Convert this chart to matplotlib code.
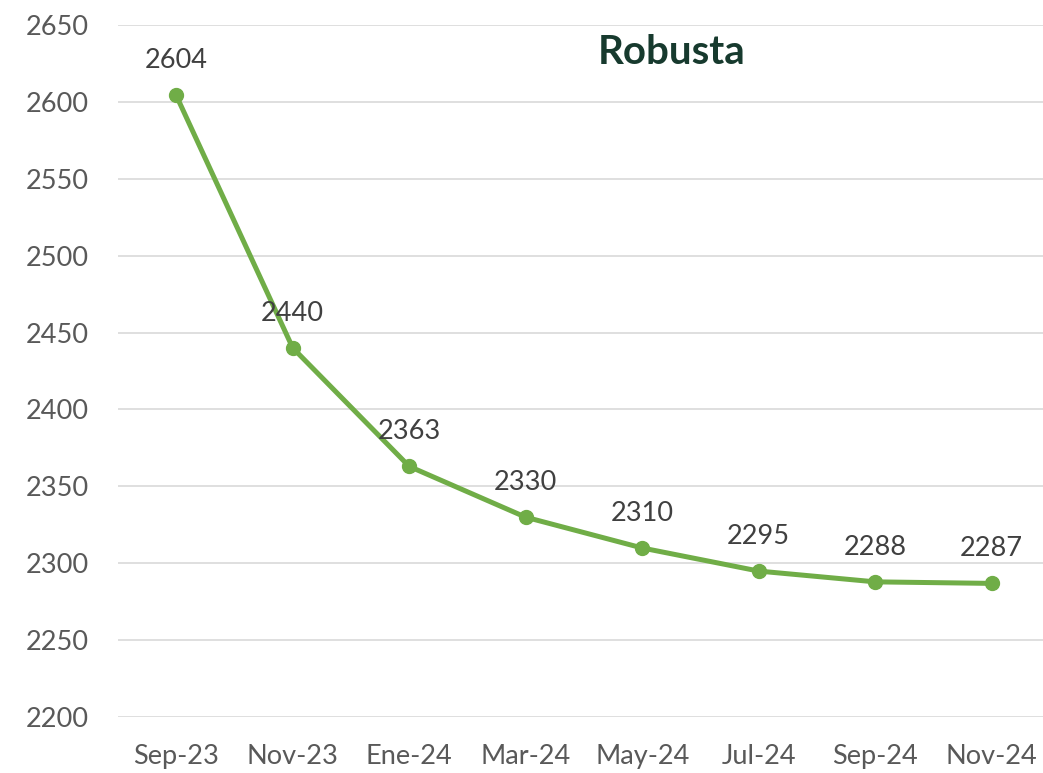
import matplotlib
matplotlib.use("Agg")
import matplotlib.pyplot as plt

# Data
months = ["Sep-23", "Nov-23", "Ene-24", "Mar-24", "May-24", "Jul-24", "Sep-24", "Nov-24"]
prices = [2604, 2440, 2363, 2330, 2310, 2295, 2288, 2287]
y_ticks = [2200, 2250, 2300, 2350, 2400, 2450, 2500, 2550, 2600, 2650]

plt.rcParams['font.family'] = ['Lato', 'DejaVu Sans']

fig = plt.figure(figsize=(10.43, 7.73), dpi=100)
ax = fig.add_axes([118 / 1043, 55.7 / 773, 932 / 1043, 692.6 / 773])

x = list(range(len(months)))
ax.plot(x, prices, color='#70AD47', linewidth=3.6, marker='o', markersize=10,
        solid_capstyle='round', zorder=3)

# Data labels above the points
for xi, v in zip(x, prices):
    ax.annotate(str(v), (xi, v), xytext=(0, 25), textcoords='offset points',
                ha='center', va='center', fontsize=19.5, color='#404040')

ax.set_xlim(-0.5, len(months) - 0.5)
ax.set_ylim(2200, 2650)
ax.set_yticks(y_ticks)
ax.set_xticks(x)
ax.set_xticklabels(months)

ax.grid(axis='y', color='#D9D9D9', linewidth=1.2)
ax.set_axisbelow(True)
for s in ax.spines.values():
    s.set_visible(False)
ax.tick_params(axis='both', length=0, labelsize=19.5, labelcolor='#595959')
ax.tick_params(axis='y', pad=21)
ax.tick_params(axis='x', pad=19)

# Title inside the plot
ax.text(0.594, 0.96, "Robusta", transform=ax.transAxes, ha='center', va='center',
        fontsize=29, fontweight='bold', color='#173A2E')

fig.savefig("out.png", dpi=100)
